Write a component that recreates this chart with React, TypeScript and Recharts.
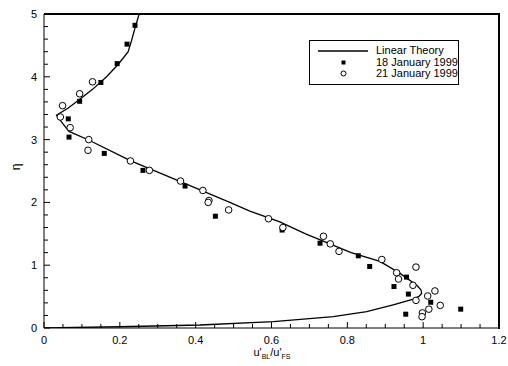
import React from 'react';
import {
  ComposedChart,
  Line,
  Scatter,
  XAxis,
  YAxis,
  CartesianGrid,
} from 'recharts';

// linear theory profile, listed from the top of the domain down
const theoryX = [0.251, 0.241, 0.232, 0.222, 0.196, 0.165, 0.128, 0.092, 0.063, 0.033, 0.05, 0.066, 0.119, 0.229, 0.349, 0.49, 0.543, 0.622, 0.69, 0.81, 0.886, 0.939, 0.983, 0.994, 0.996, 0.988, 0.974, 0.921, 0.851, 0.763, 0.605, 0.411, 0.2, 0.0];
const theoryEta = [5.0, 4.8, 4.6, 4.4, 4.2, 4.0, 3.8, 3.63, 3.5, 3.39, 3.25, 3.13, 2.99, 2.66, 2.36, 2.0, 1.86, 1.69, 1.5, 1.2, 1.06, 0.87, 0.68, 0.61, 0.55, 0.5, 0.46, 0.37, 0.26, 0.18, 0.1, 0.048, 0.02, 0.0];

// 18 January 1999 (filled squares)
const jan18X = [0.24, 0.219, 0.193, 0.15, 0.094, 0.064, 0.066, 0.159, 0.261, 0.372, 0.452, 0.628, 0.728, 0.829, 0.859, 0.956, 0.923, 0.961, 1.02, 0.954, 1.099];
const jan18Eta = [4.82, 4.52, 4.21, 3.91, 3.61, 3.33, 3.04, 2.78, 2.51, 2.26, 1.78, 1.56, 1.35, 1.15, 0.98, 0.81, 0.66, 0.54, 0.41, 0.22, 0.3];

// 21 January 1999 (open circles)
const jan21X = [0.128, 0.094, 0.049, 0.043, 0.069, 0.118, 0.116, 0.228, 0.278, 0.36, 0.419, 0.435, 0.433, 0.487, 0.592, 0.63, 0.737, 0.755, 0.778, 0.891, 0.981, 0.93, 0.935, 0.973, 1.031, 1.012, 0.981, 1.045, 1.015, 0.998, 0.997];
const jan21Eta = [3.92, 3.73, 3.54, 3.36, 3.19, 3.0, 2.83, 2.66, 2.51, 2.34, 2.19, 2.03, 2.0, 1.88, 1.74, 1.6, 1.46, 1.34, 1.22, 1.09, 0.97, 0.88, 0.78, 0.68, 0.59, 0.51, 0.44, 0.36, 0.3, 0.24, 0.18];

const xTicks = [0, 0.05, 0.1, 0.15, 0.2, 0.25, 0.3, 0.35, 0.4, 0.45, 0.5, 0.55, 0.6, 0.65, 0.7, 0.75, 0.8, 0.85, 0.9, 0.95, 1, 1.05, 1.1, 1.15, 1.2];
const xLabels = ['0', '0.2', '0.4', '0.6', '0.8', '1', '1.2'];
const yTicks = [0, 0.2, 0.4, 0.6, 0.8, 1, 1.2, 1.4, 1.6, 1.8, 2, 2.2, 2.4, 2.6, 2.8, 3, 3.2, 3.4, 3.6, 3.8, 4, 4.2, 4.4, 4.6, 4.8, 5];
const yLabels = ['0', '1', '2', '3', '4', '5'];

const theory = theoryX.map((x, i) => ({ x, y: theoryEta[i] }));
const jan18 = jan18X.map((x, i) => ({ x, y: jan18Eta[i] }));
const jan21 = jan21X.map((x, i) => ({ x, y: jan21Eta[i] }));

const font = '"Liberation Sans", Arial, sans-serif';

// chart layout
const W = 508;
const H = 366;
const margin = { top: 14, right: 9, bottom: 0, left: 14 };
const yAxisW = 30;
const xAxisH = 38;

const XTick = (props: any) => {
  const { x, y, payload } = props;
  const label = xLabels.find((l) => Math.abs(parseFloat(l) - payload.value) < 1e-6);
  return (
    <g>
      <line x1={x} y1={y} x2={x} y2={y - (label ? 6 : 4)} stroke="#000" strokeWidth={1} />
      {label && (
        <text x={x} y={y + 16} textAnchor="middle" fontSize={11} fontFamily={font} fill="#000">
          {label}
        </text>
      )}
    </g>
  );
};

const YTick = (props: any) => {
  const { x, y, payload } = props;
  const label = yLabels.find((l) => Math.abs(parseFloat(l) - payload.value) < 1e-6);
  return (
    <g>
      <line x1={x} y1={y} x2={x + (label ? 6 : 4)} y2={y} stroke="#000" strokeWidth={1} />
      {label && (
        <text x={x - 7} y={y + 4} textAnchor="end" fontSize={11} fontFamily={font} fill="#000">
          {label}
        </text>
      )}
    </g>
  );
};

const Square = (props: any) => (
  <rect x={props.cx - 2.5} y={props.cy - 2.5} width={5} height={5} fill="#000" />
);

const Ring = (props: any) => (
  <circle cx={props.cx} cy={props.cy} r={3.3} fill="#fff" stroke="#000" strokeWidth={1} />
);

// top and right edges of the plot box, as two plain divs over the chart
const plotLeft = margin.left + yAxisW;
const plotTop = margin.top;
const plotRight = W - margin.right;
const plotBottom = H - margin.bottom - xAxisH;

const FrameTop = () => (
  <div
    style={{
      position: 'absolute',
      left: plotLeft,
      top: plotTop - 1,
      width: plotRight - plotLeft + 1,
      height: 2,
      background: '#000',
    }}
  />
);

const FrameRight = () => (
  <div
    style={{
      position: 'absolute',
      left: plotRight - 1,
      top: plotTop - 1,
      width: 2,
      height: plotBottom - plotTop + 2,
      background: '#000',
    }}
  />
);

const LegendBox = () => (
  <div
    style={{
      position: 'absolute',
      left: 309,
      top: 40,
      border: '1px solid #000',
      width: 150,
      height: 45,
      boxSizing: 'border-box',
      background: '#fff',
      fontFamily: font,
      fontSize: 11,
      lineHeight: '11px',
      color: '#000',
    }}
  >
    <svg width={60} height={44} style={{ position: 'absolute', left: 0, top: 0 }}>
      <line x1={8} y1={10} x2={58} y2={10} stroke="#000" strokeWidth={1.3} />
      <rect x={31.5} y={19.5} width={4} height={4} fill="#000" />
      <circle cx={33.5} cy={32.5} r={2.5} fill="#fff" stroke="#000" />
    </svg>
    <div style={{ position: 'absolute', left: 66, top: 4 }}>Linear Theory</div>
    <div style={{ position: 'absolute', left: 66, top: 16 }}>18 January 1999</div>
    <div style={{ position: 'absolute', left: 66, top: 27 }}>21 January 1999</div>
  </div>
);

const AxisTitles = () => (
  <g>
    <text x={272} y={356} textAnchor="middle" fontFamily={font} fontSize={11} fill="#000">
      u'
      <tspan fontSize={7} dy={3}>BL</tspan>
      <tspan dy={-3}>/u'</tspan>
      <tspan fontSize={7} dy={3}>FS</tspan>
    </text>
    <text
      x={17}
      y={167}
      textAnchor="middle"
      dominantBaseline="middle"
      transform="rotate(-90 17 167)"
      fontFamily={font}
      fontSize={12}
      fill="#000"
    >
      η
    </text>
  </g>
);

export default function App() {
  return (
    <div style={{ position: 'absolute', left: 0, top: 0, width: W, height: H, background: '#fff' }}>
      <ComposedChart width={W} height={H} margin={margin}>
        <CartesianGrid
          stroke="#000"
          strokeWidth={1.5}
          horizontal={false}
          vertical={false}
        />
        <XAxis
          type="number"
          dataKey="x"
          domain={[0, 1.2]}
          ticks={xTicks}
          interval={0}
          tick={<XTick />}
          tickSize={0}
          tickMargin={0}
          tickLine={false}
          axisLine={{ stroke: '#000' }}
          height={xAxisH}
          allowDataOverflow
        />
        <YAxis
          type="number"
          dataKey="y"
          domain={[0, 5]}
          ticks={yTicks}
          interval={0}
          tick={<YTick />}
          tickSize={0}
          tickMargin={0}
          tickLine={false}
          axisLine={{ stroke: '#000' }}
          width={yAxisW}
          allowDataOverflow
        />
        <Line
          data={theory}
          dataKey="y"
          type="linear"
          stroke="#000"
          strokeWidth={1.3}
          dot={false}
          activeDot={false}
          isAnimationActive={false}
          name="Linear Theory"
        />
        <Scatter data={jan18} dataKey="y" shape={<Square />} isAnimationActive={false} name="18 January 1999" />
        <Scatter data={jan21} dataKey="y" shape={<Ring />} isAnimationActive={false} name="21 January 1999" />
        <AxisTitles />
      </ComposedChart>
      <FrameTop />
      <FrameRight />
      <LegendBox />
    </div>
  );
}
